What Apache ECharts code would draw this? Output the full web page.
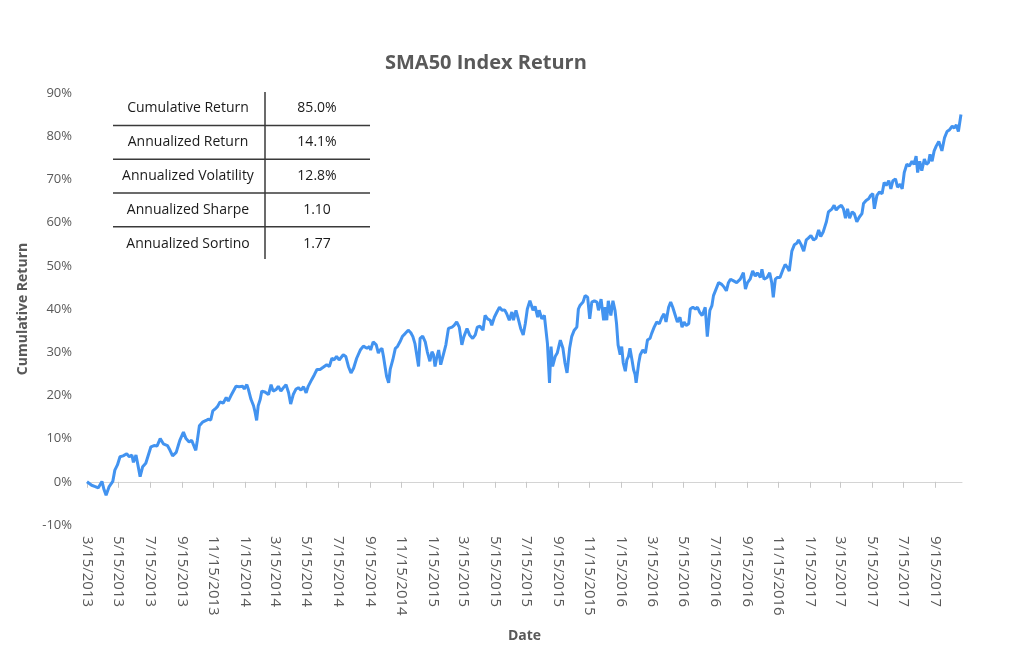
<!DOCTYPE html>
<html>
<head>
<meta charset="utf-8">
<title>SMA50 Index Return</title>
<script src="https://cdn.jsdelivr.net/npm/echarts@6.0.0/dist/echarts.min.js"></script>
<style>
  html, body { margin: 0; padding: 0; background: #fff; }
  #chart { width: 1030px; height: 648px; }
</style>
</head>
<body>
<div id="chart"></div>
<script>
// start of the series, every point is counted in calendar days from here
const startDate = '2013-03-15'
const dayOffsets = [
  0, 9, 16, 22, 29, 33, 37, 43, 50, 54, 59, 64, 70, 77, 82, 87, 90, 95, 100, 103,
  108, 114, 119, 124, 130, 136, 142, 148, 156, 161, 166, 173, 177, 180, 187, 192, 198, 203, 208, 211,
  214, 218, 224, 231, 235, 240, 244, 248, 253, 258, 264, 270, 274, 279, 284, 289, 295, 302, 305, 310,
  313, 318, 323, 326, 329, 332, 336, 339, 345, 352, 357, 361, 367, 371, 376, 381, 386, 391, 395, 400,
  405, 410, 415, 420, 425, 429, 436, 441, 446, 452, 458, 465, 470, 475, 479, 484, 489, 497, 502, 507,
  512, 517, 523, 530, 536, 543, 548, 550, 555, 561, 565, 568, 572, 575, 578, 581, 585, 588, 593, 598,
  602, 607, 612, 617, 623, 628, 632, 636, 640, 643, 646, 651, 656, 660, 665, 669, 672, 675, 678, 682,
  686, 691, 696, 701, 708, 712, 717, 722, 727, 731, 737, 742, 748, 753, 757, 762, 768, 772, 777, 782,
  785, 790, 795, 800, 805, 810, 814, 819, 824, 827, 832, 837, 841, 846, 850, 854, 859, 865, 869, 874,
  877, 882, 887, 890, 893, 895, 897, 900, 903, 908, 912, 918, 923, 927, 931, 936, 940, 945, 950, 953,
  956, 962, 966, 971, 975, 979, 984, 989, 992, 997, 1002, 1005, 1008, 1011, 1016, 1020, 1024, 1027, 1030, 1034,
  1037, 1040, 1044, 1047, 1050, 1053, 1057, 1060, 1063, 1065, 1070, 1073, 1078, 1083, 1087, 1092, 1095, 1100, 1105, 1110,
  1115, 1119, 1123, 1128, 1132, 1136, 1141, 1145, 1150, 1154, 1158, 1162, 1167, 1170, 1175, 1180, 1184, 1188, 1193, 1196,
  1199, 1203, 1208, 1212, 1215, 1220, 1225, 1231, 1236, 1240, 1244, 1248, 1254, 1260, 1267, 1273, 1277, 1281, 1286, 1291,
  1296, 1300, 1306, 1309, 1313, 1319, 1324, 1328, 1331, 1335, 1339, 1344, 1350, 1354, 1359, 1362, 1367, 1372, 1377, 1380,
  1385, 1390, 1395, 1399, 1404, 1409, 1414, 1419, 1423, 1428, 1434, 1438, 1445, 1449, 1453, 1458, 1463, 1467, 1471, 1475,
  1479, 1484, 1488, 1493, 1498, 1503, 1506, 1511, 1516, 1520, 1524, 1527, 1532, 1537, 1542, 1546, 1550, 1555, 1559, 1563,
  1568, 1572, 1577, 1581, 1585, 1590, 1595, 1600, 1604, 1608, 1611, 1615, 1619, 1624, 1628, 1632, 1635, 1639, 1643, 1647,
  1652, 1655, 1658, 1663, 1668, 1673, 1678, 1682, 1686, 1690, 1695
]
// cumulative return in %
const cumReturn = [
  0.0, -0.8, -1.1, -1.4, 0.1, -1.8, -3.1, -1.1, 0.1, 2.7, 3.9, 5.8, 6.0, 6.5, 5.8, 6.2, 4.5, 6.2, 3.1, 1.2,
  3.5, 4.3, 6.2, 8.1, 8.4, 8.3, 10.0, 8.8, 8.4, 7.3, 6.0, 6.8, 8.4, 9.6, 11.5, 10.0, 9.2, 9.6, 8.1, 7.3,
  9.6, 13.0, 13.8, 14.2, 14.5, 14.3, 16.4, 16.8, 17.4, 18.5, 18.2, 19.5, 18.7, 19.9, 21.0, 22.1, 22.0, 22.1, 21.5, 22.5,
  21.4, 19.1, 17.6, 16.1, 14.2, 17.6, 19.1, 21.0, 20.8, 20.2, 22.5, 21.0, 21.4, 22.1, 21.0, 21.8, 22.5, 20.6, 18.0, 20.2,
  21.4, 21.8, 21.2, 22.0, 20.6, 22.1, 23.7, 24.8, 26.0, 26.0, 26.5, 27.1, 26.7, 28.6, 28.2, 29.0, 28.2, 29.4, 29.0, 26.7,
  25.2, 26.3, 28.6, 30.5, 31.4, 30.9, 31.3, 30.5, 32.4, 31.7, 29.8, 30.5, 30.9, 29.0, 26.7, 24.4, 22.9, 26.0, 28.2, 30.9,
  31.3, 32.4, 33.7, 34.3, 35.1, 34.5, 33.6, 32.0, 29.0, 26.7, 33.2, 33.7, 32.4, 30.1, 27.9, 30.1, 29.4, 26.7, 28.6, 30.5,
  27.1, 29.4, 31.7, 35.5, 35.8, 36.2, 37.0, 35.8, 31.7, 33.6, 35.5, 34.0, 33.2, 34.0, 35.8, 36.0, 35.1, 38.5, 37.7, 37.4,
  36.2, 38.1, 39.3, 40.4, 39.7, 39.8, 38.9, 37.4, 39.3, 37.4, 39.7, 37.4, 35.5, 34.0, 36.6, 40.0, 41.9, 39.7, 40.6, 38.1,
  39.7, 37.7, 38.5, 38.1, 32.0, 27.5, 22.9, 31.3, 26.7, 29.0, 29.8, 32.8, 30.9, 27.5, 25.2, 30.9, 33.6, 35.1, 35.8, 40.0,
  40.8, 41.6, 43.1, 42.7, 37.7, 41.6, 41.9, 41.6, 39.7, 42.3, 37.4, 40.4, 37.4, 41.9, 38.5, 41.9, 39.7, 36.6, 31.7, 29.4,
  31.3, 27.5, 25.6, 28.2, 29.0, 30.9, 28.2, 26.0, 24.8, 22.9, 27.5, 29.4, 30.5, 29.8, 32.8, 33.2, 34.3, 35.8, 37.0, 36.6,
  38.1, 38.9, 37.0, 40.4, 41.6, 40.4, 38.5, 37.0, 38.1, 35.8, 37.0, 36.2, 36.6, 40.0, 40.4, 40.0, 40.4, 39.3, 38.5, 38.1,
  40.4, 33.6, 39.7, 40.8, 43.1, 44.6, 46.1, 45.7, 45.0, 44.2, 46.1, 46.9, 46.5, 46.1, 46.9, 48.4, 44.6, 46.1, 46.9, 48.8,
  47.6, 48.4, 47.3, 49.2, 46.9, 47.3, 48.4, 46.1, 42.7, 46.9, 47.3, 47.3, 49.2, 50.3, 49.5, 48.8, 53.4, 54.9, 55.3, 56.0,
  54.9, 53.4, 56.0, 56.4, 57.0, 56.0, 56.4, 58.3, 56.8, 57.9, 60.2, 62.5, 63.2, 64.0, 62.9, 63.6, 64.0, 63.2, 61.0, 63.2,
  61.0, 62.5, 62.1, 60.2, 61.3, 62.1, 64.4, 65.1, 65.5, 66.3, 66.7, 63.2, 66.3, 67.1, 66.7, 69.3, 68.6, 69.7, 67.8, 69.7,
  70.1, 68.2, 68.9, 67.8, 71.6, 73.5, 73.1, 74.2, 73.5, 75.4, 71.6, 74.2, 72.0, 74.7, 73.5, 73.9, 75.8, 74.2, 76.6, 77.7,
  78.8, 77.7, 76.6, 79.6, 81.1, 81.5, 82.3, 81.9, 82.6, 81.1, 85.0
]
const tickLabels = [
  '3/15/2013', '5/15/2013', '7/15/2013', '9/15/2013', '11/15/2013',
  '1/15/2014', '3/15/2014', '5/15/2014', '7/15/2014', '9/15/2014', '11/15/2014',
  '1/15/2015', '3/15/2015', '5/15/2015', '7/15/2015', '9/15/2015', '11/15/2015',
  '1/15/2016', '3/15/2016', '5/15/2016', '7/15/2016', '9/15/2016', '11/15/2016',
  '1/15/2017', '3/15/2017', '5/15/2017', '7/15/2017', '9/15/2017'
]
const statNames = ['Cumulative Return', 'Annualized Return', 'Annualized Volatility', 'Annualized Sharpe', 'Annualized Sortino']
const statValues = ['85.0%', '14.1%', '12.8%', '1.10', '1.77']

const DAY = 86400000
const FONT = '"Open Sans", "Noto Sans", sans-serif'
const GREY = '#595959'

let start = Date.parse(startDate + 'T00:00:00Z')
let seriesData = dayOffsets.map((d, i) => [d, cumReturn[i]])
// 刻度位置：标签日期距起点的天数
let tickDays = tickLabels.map(s => {
  let p = s.split('/')
  return Math.round((Date.UTC(+p[2], +p[0] - 1, +p[1]) - start) / DAY)
})
let xMax = 1697

function dayLabel(v) {
  let i = tickDays.indexOf(Math.round(v))
  return i >= 0 ? tickLabels[i] : ''
}

// 统计表格
let tableEls = []
let rowH = 33.8
let firstRow = 108.5
statNames.forEach((name, i) => {
  let cy = firstRow + i * rowH
  tableEls.push({
    type: 'text', x: 188, y: cy,
    style: { text: name, x: 0, y: 0, align: 'center', verticalAlign: 'middle', fill: '#1a1a1a', font: '14px ' + FONT }
  })
  tableEls.push({
    type: 'text', x: 317, y: cy,
    style: { text: statValues[i], x: 0, y: 0, align: 'center', verticalAlign: 'middle', fill: '#1a1a1a', font: '14px ' + FONT }
  })
  if (i < statNames.length - 1) {
    tableEls.push({
      type: 'line',
      shape: { x1: 113, y1: cy + rowH / 2, x2: 370, y2: cy + rowH / 2 },
      style: { stroke: '#3a3a3a', lineWidth: 1.5 }
    })
  }
})
tableEls.push({
  type: 'line',
  shape: { x1: 265, y1: 92, x2: 265, y2: 259 },
  style: { stroke: '#3a3a3a', lineWidth: 1.5 }
})

let myChart = echarts.init(document.getElementById('chart'))
myChart.setOption({
  animation: false,
  backgroundColor: '#fff',
  title: {
    text: 'SMA50 Index Return',
    left: 380,
    top: 48,
    textStyle: { fontFamily: FONT, fontSize: 20, fontWeight: 'bold', color: GREY }
  },
  grid: { left: 87, right: 68, top: 93, bottom: 117 },
  xAxis: [{
    type: 'value',
    min: 0,
    max: xMax,
    position: 'bottom',
    axisLine: { show: false, onZero: false },
    axisTick: { show: false },
    splitLine: { show: false },
    axisLabel: {
      customValues: tickDays,
      rotate: -90,
      margin: 11,
      color: GREY,
      fontFamily: FONT,
      fontSize: 15,
      hideOverlap: false,
      formatter: dayLabel
    },
    name: 'Date',
    nameLocation: 'middle',
    nameGap: 104,
    nameTextStyle: { fontFamily: FONT, fontSize: 14, fontWeight: 'bold', color: GREY }
  }, {
    // 0% 处的横轴线和刻度
    type: 'value',
    min: 0,
    max: xMax,
    position: 'bottom',
    axisLine: { show: true, onZero: true, lineStyle: { color: '#d4d4d4', width: 1 } },
    axisTick: { show: true, inside: false, customValues: tickDays, length: 6, lineStyle: { color: '#c8c8c8', width: 1 } },
    axisLabel: { show: false },
    splitLine: { show: false }
  }],
  yAxis: {
    type: 'value',
    min: -10,
    max: 90,
    interval: 10,
    axisLine: { show: false },
    axisTick: { show: false },
    splitLine: { show: false },
    axisLabel: {
      formatter: '{value}%',
      margin: 15,
      color: GREY,
      fontFamily: FONT,
      fontSize: 13
    },
    name: 'Cumulative Return',
    nameLocation: 'middle',
    nameGap: 57,
    nameRotate: 90,
    nameTextStyle: { fontFamily: FONT, fontSize: 14, fontWeight: 'bold', color: GREY }
  },
  series: [{
    type: 'line',
    xAxisIndex: 0,
    data: seriesData,
    showSymbol: false,
    smooth: false,
    lineStyle: { color: '#4293F0', width: 3 },
    z: 3
  }],
  graphic: tableEls
})
</script>
</body>
</html>
